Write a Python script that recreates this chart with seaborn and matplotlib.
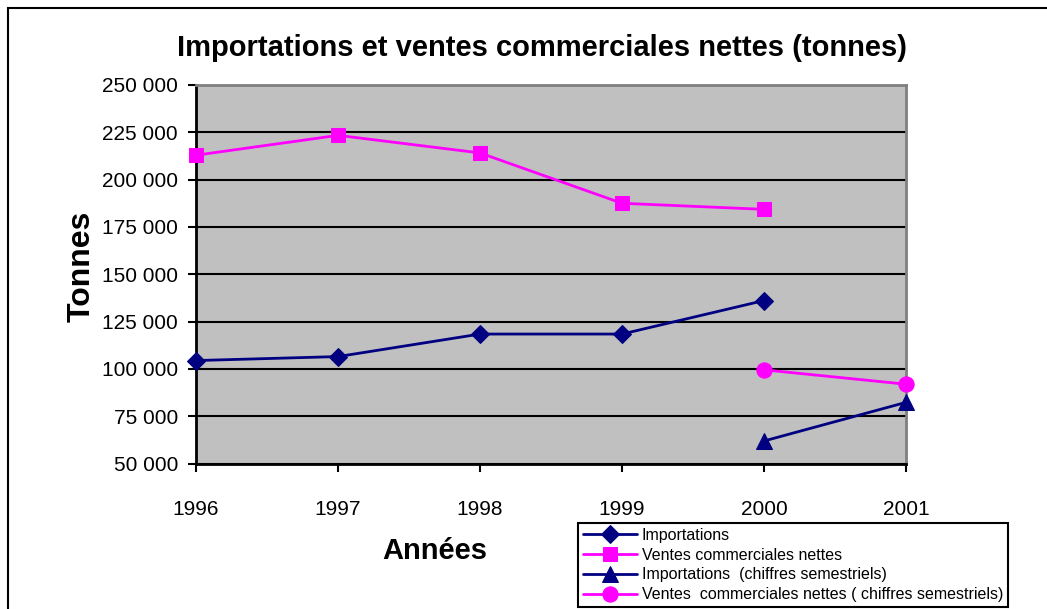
import matplotlib
matplotlib.use("Agg")
import matplotlib.pyplot as plt
from matplotlib.patches import Rectangle
from matplotlib.ticker import FuncFormatter, MultipleLocator
import seaborn as sns
import pandas as pd

# donnees
annees = [1996, 1997, 1998, 1999, 2000]
importations = [104400, 106500, 118400, 118400, 136100]
ventes = [212900, 223400, 214100, 187500, 184300]
annees_sem = [2000, 2001]
importations_sem = [61900, 82300]
ventes_sem = [99500, 91900]

labels = ["Importations", "Ventes commerciales nettes",
          "Importations  (chiffres semestriels)",
          "Ventes  commerciales nettes ( chiffres semestriels)"]

sns.set_style("white")
plt.rcParams['font.family'] = ['Liberation Sans', 'DejaVu Sans']
plt.rcParams['text.color'] = 'black'
plt.rcParams['axes.labelcolor'] = 'black'
plt.rcParams['xtick.color'] = 'black'
plt.rcParams['ytick.color'] = 'black'

W, H = 1047, 609
fig = plt.figure(figsize=(W / 100, H / 100), dpi=100)
ax = fig.add_axes([196 / W, 1 - 463.5 / H, (906 - 196) / W, (463.5 - 85) / H])
ax.set_facecolor("#C0C0C0")

navy = "#000080"
magenta = "#FF00FF"

df1 = pd.DataFrame({"annee": annees, "val": importations})
df2 = pd.DataFrame({"annee": annees, "val": ventes})
df3 = pd.DataFrame({"annee": annees_sem, "val": importations_sem})
df4 = pd.DataFrame({"annee": annees_sem, "val": ventes_sem})

sns.lineplot(data=df1, x="annee", y="val", ax=ax, color=navy, marker="D", markersize=9,
             markeredgecolor=navy, linewidth=2, label=labels[0], clip_on=False, zorder=5)
sns.lineplot(data=df2, x="annee", y="val", ax=ax, color=magenta, marker="s", markersize=10,
             markeredgecolor=magenta, linewidth=2, label=labels[1], clip_on=False, zorder=5)
sns.lineplot(data=df3, x="annee", y="val", ax=ax, color=navy, marker="^", markersize=11,
             markeredgecolor=navy, linewidth=2, label=labels[2], clip_on=False, zorder=5)
sns.lineplot(data=df4, x="annee", y="val", ax=ax, color=magenta, marker="o", markersize=11,
             markeredgecolor=magenta, linewidth=2, label=labels[3], clip_on=False, zorder=5)

ax.set_xlim(1996, 2001)
ax.set_ylim(50000, 250000)
ax.yaxis.set_major_locator(MultipleLocator(25000))
ax.xaxis.set_major_locator(MultipleLocator(1))
ax.yaxis.set_major_formatter(FuncFormatter(lambda v, p: f"{int(v):,}".replace(",", " ")))
ax.xaxis.set_major_formatter(FuncFormatter(lambda v, p: f"{int(v)}"))

ax.grid(axis="y", color="black", linewidth=1.5)
ax.grid(axis="x", visible=False)
ax.set_axisbelow(True)

for s in ["left", "bottom"]:
    ax.spines[s].set_color("black")
    ax.spines[s].set_linewidth(2)
for s in ["top", "right"]:
    ax.spines[s].set_color("#808080")
    ax.spines[s].set_linewidth(2)

ax.tick_params(axis="both", direction="out", length=6, width=1.5, color="black",
               labelsize=15, labelcolor="black", left=True, bottom=True)
ax.tick_params(axis="y", pad=7)
ax.tick_params(axis="x", pad=20)

ax.set_xlabel("")
ax.set_ylabel("")
fig.text(82 / W, 1 - 266 / H, "Tonnes", rotation=90, fontsize=23, fontweight="bold",
         ha="center", va="center")
fig.text(435 / W, 1 - 551 / H, "Années", fontsize=21, fontweight="bold",
         ha="center", va="center")
fig.text(542 / W, 1 - 48 / H, "Importations et ventes commerciales nettes (tonnes)",
         fontsize=21, fontweight="bold", ha="center", va="center")

leg = ax.legend(loc="lower left", bbox_to_anchor=(578 / W, 2 / H), bbox_transform=fig.transFigure,
                fontsize=11.5, frameon=True, fancybox=False, borderaxespad=0,
                handlelength=3.4, handletextpad=0.3, labelspacing=0.3, borderpad=0.3)
leg.get_frame().set_edgecolor("black")
leg.get_frame().set_linewidth(1.5)
leg.get_frame().set_facecolor("white")
leg.get_frame().set_alpha(1)

fig.add_artist(Rectangle((8 / W, -0.1), 1.2, 1 - 8 / H + 0.1, transform=fig.transFigure,
                         fill=False, edgecolor="black", linewidth=1.5))

fig.savefig("out.png", dpi=100)
